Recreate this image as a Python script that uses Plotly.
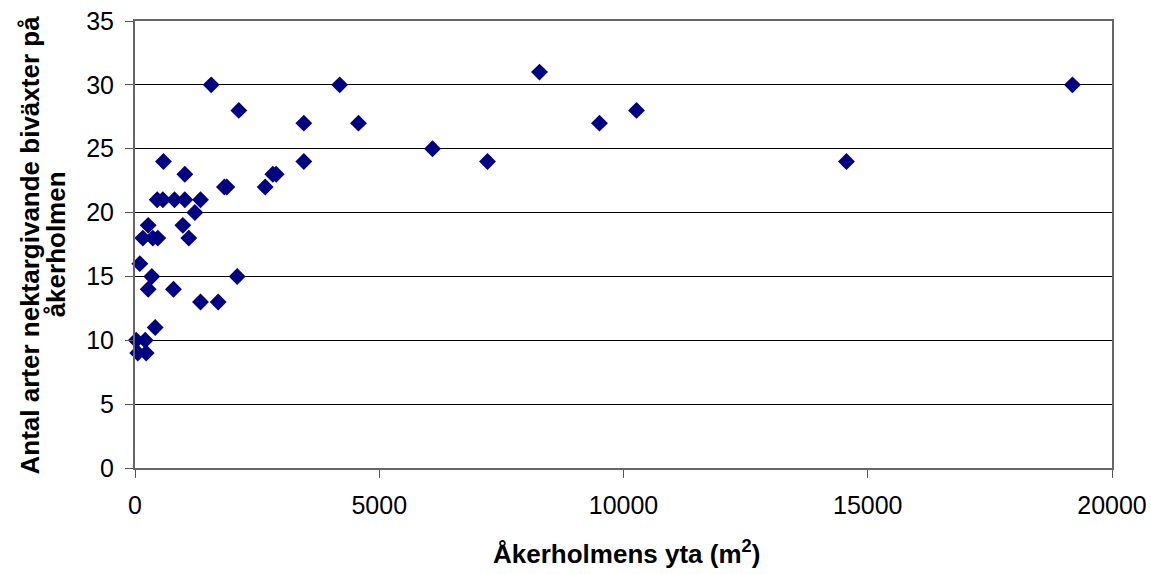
import plotly.graph_objects as go

area = [1560, 2125, 3456, 583, 3456, 1020, 1830, 1880, 2665, 2821, 2890,
        454, 570, 809, 1020, 1341, 1225, 270, 979,
        160, 365, 467, 1101, 99, 344, 2092, 270, 788, 1341, 1703,
        413, 25, 209, 57, 229,
        4190, 4575, 6090, 7216, 8280, 9508, 10266, 14564, 19190]
species = [30, 28, 27, 24, 24, 23, 22, 22, 22, 23, 23,
           21, 21, 21, 21, 21, 20, 19, 19,
           18, 18, 18, 18, 16, 15, 15, 14, 14, 13, 13,
           11, 10, 10, 9, 9,
           30, 27, 25, 24, 31, 27, 28, 24, 30]

x_ticks = [0, 5000, 10000, 15000, 20000]
x_labels = ["0", "5000", "10000", "15000", "20000"]
y_ticks = [0, 5, 10, 15, 20, 25, 30, 35]

y_title_lines = ["Antal arter nektargivande biväxter på", "åkerholmen"]
x_title = "Åkerholmens yta (m<sup>2</sup>)"

fig = go.Figure()
fig.add_trace(go.Scatter(
    x=area, y=species, mode="markers",
    marker=dict(symbol="diamond", size=13, color="#000080",
                line=dict(width=0)),
    showlegend=False, cliponaxis=False,
))

font = "Liberation Sans, Arial, sans-serif"
annotations = [
    dict(text="<b>" + y_title_lines[0] + "</b>", textangle=-90,
         xref="paper", yref="paper", x=-0.1075, y=0.5,
         xanchor="center", yanchor="middle", showarrow=False,
         font=dict(size=26, family=font, color="black")),
    dict(text="<b>" + y_title_lines[1] + "</b>", textangle=-90,
         xref="paper", yref="paper", x=-0.081, y=0.5,
         xanchor="center", yanchor="middle", showarrow=False,
         font=dict(size=26, family=font, color="black")),
    dict(text="<b>" + x_title + "</b>",
         xref="paper", yref="paper", x=0.503, y=-0.19,
         xanchor="center", yanchor="middle", showarrow=False,
         font=dict(size=26, family=font, color="black")),
]

fig.update_layout(
    width=1151, height=574,
    margin=dict(l=135, r=39, t=21, b=106, autoexpand=False),
    paper_bgcolor="white", plot_bgcolor="white",
    font=dict(family=font, size=25, color="black"),
    annotations=annotations,
    xaxis=dict(
        range=[0, 20000], tickvals=x_ticks, ticktext=x_labels,
        ticks="outside", ticklen=8, automargin=False, ticklabelstandoff=6,
        tickcolor="#555", showgrid=False, zeroline=False,
        showline=True, linecolor="#666", linewidth=2, mirror=True,
        tickfont=dict(size=25),
    ),
    yaxis=dict(
        range=[0, 35], tickvals=y_ticks, ticks="outside", ticklen=8,
        automargin=False, ticklabelstandoff=6,
        tickcolor="#555", showgrid=True, gridcolor="black", gridwidth=1,
        zeroline=False, showline=True, linecolor="#666", linewidth=2,
        mirror=True, tickfont=dict(size=25),
    ),
)

fig.write_html("out.html")
